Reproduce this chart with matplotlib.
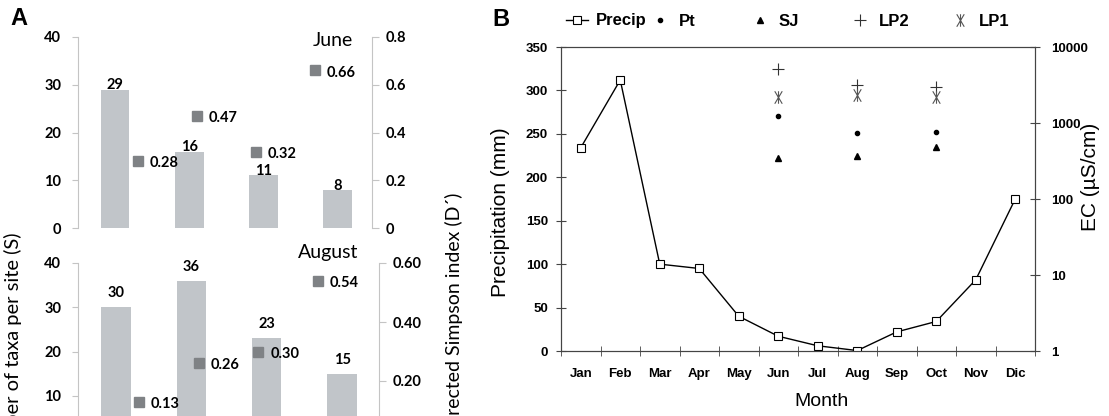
import matplotlib
matplotlib.use('Agg')
import matplotlib.pyplot as plt
from matplotlib.path import Path
import numpy as np

# Panel A: number of taxa (bars) and corrected Simpson index (squares) per site
site_pos = np.arange(4)
june_taxa = [29, 16, 11, 8]
june_simpson = [0.28, 0.47, 0.32, 0.66]
aug_taxa = [30, 36, 23, 15]
aug_simpson = [0.13, 0.26, 0.30, 0.54]

# Panel B: monthly precipitation and electrical conductivity per site
months = ['Jan', 'Feb', 'Mar', 'Apr', 'May', 'Jun', 'Jul', 'Aug', 'Sep', 'Oct', 'Nov', 'Dic']
precip = [234, 312, 100, 95, 40, 17, 6, 0.5, 22, 34, 82, 175]
ec_months = ['Jun', 'Aug', 'Oct']
ec_pt = [1230, 740, 760]
ec_sj = [347, 370, 480]
ec_lp2 = [5130, 3160, 2960]
ec_lp1 = [2190, 2330, 2190]

W, H = 1109, 416
BAR_C = '#c1c5c9'
SQ_C = '#7f8285'
SPINE_A = '#c4c4c4'
FONT_A = 'Lato'
FONT_B = 'Liberation Sans'

# X with a vertical bar, like the LP1 symbol
asterisk = Path([(0, -1), (0, 1), (-0.6, -1), (0.6, 1), (-0.6, 1), (0.6, -1)],
                [Path.MOVETO, Path.LINETO] * 3)

fig = plt.figure(figsize=(W / 100, H / 100), dpi=100)


def px_rect(left, right, top, bottom):
    return [left / W, 1 - bottom / H, (right - left) / W, (bottom - top) / H]


def simpson_panel(rect, taxa, simpson, bar_xlim, sq_xlim, r_ticks, r_labels,
                  title, title_xy, bar_pad):
    ax = fig.add_axes(rect)
    bars = ax.bar(site_pos, taxa, width=0.39, color=BAR_C, zorder=2)
    ax.bar_label(bars, padding=bar_pad, fontsize=10.5, fontweight='bold',
                 family=FONT_A)
    ax.set_xlim(*bar_xlim)
    ax.set_ylim(0, 40)
    ax.set_yticks([0, 10, 20, 30, 40])
    for s in ['top', 'right', 'bottom']:
        ax.spines[s].set_visible(False)
    ax.spines['left'].set_color(SPINE_A)
    ax.tick_params(axis='y', length=4, color=SPINE_A, pad=8)
    ax.tick_params(axis='x', bottom=False, labelbottom=False)
    for t in ax.get_yticklabels():
        t.set_fontweight('bold')
        t.set_fontsize(10.5)
        t.set_family(FONT_A)

    ar = fig.add_axes(rect)
    ar.patch.set_visible(False)
    ar.plot(site_pos, simpson, 's', color=SQ_C, ms=7.5, ls='none')
    for x, v in zip(site_pos, simpson):
        ar.annotate('%.2f' % v, (x, v), xytext=(8.5, -1.5),
                    textcoords='offset points', ha='left', va='center',
                    fontsize=10.5, fontweight='bold', family=FONT_A)
    ar.set_xlim(*sq_xlim)
    ar.set_ylim(r_ticks[0], r_ticks[-1])
    for s in ['top', 'left', 'bottom']:
        ar.spines[s].set_visible(False)
    ar.spines['right'].set_color(SPINE_A)
    ar.yaxis.tick_right()
    ar.set_yticks(r_ticks, r_labels)
    ar.tick_params(axis='y', length=5, color=SPINE_A, pad=5)
    ar.tick_params(axis='x', bottom=False, labelbottom=False)
    for t in ar.get_yticklabels():
        t.set_fontweight('bold')
        t.set_fontsize(10.5)
        t.set_family(FONT_A)
    ax.text(title_xy[0], title_xy[1], title, transform=ax.transAxes,
            ha='right', va='center', fontsize=14, family=FONT_A,
            clip_on=False)
    return ax, ar


simpson_panel(px_rect(78, 372, 37, 228), june_taxa, june_simpson,
              (-0.499, 3.463), (-1.017, 3.966),
              [0, 0.2, 0.4, 0.6, 0.8], ['0', '0.2', '0.4', '0.6', '0.8'],
              'June', (0.935, 0.984), -2)
simpson_panel(px_rect(78, 379, 263, 440), aug_taxa, aug_simpson,
              (-0.505, 3.49), (-1.02, 4.02),
              [0, 0.2, 0.4, 0.6], ['0.00', '0.20', '0.40', '0.60'],
              'August', (0.93, 1.062), 5)

fig.text(13 / W, 1 - 233 / H, 'Number of taxa per site (S)', rotation=90,
         ha='center', va='top', fontsize=14.5, family=FONT_A)
fig.text(454 / W, 1 - 193 / H, 'Corrected Simpson index (D\u00b4)', rotation=90,
         ha='center', va='top', fontsize=14, family=FONT_A)

# Panel B
SPINE_B = '#444444'
axb = fig.add_axes(px_rect(561, 1035, 47, 351))
mx = np.arange(1, 13)
h_precip, = axb.plot(mx, precip, '-s', color='black', lw=1, ms=5.5,
                     mfc='white', mec='black', mew=0.8, zorder=3,
                     label='Precip')
axb.set_xlim(0.5, 12.5)
axb.set_ylim(0, 350)
axb.set_yticks(np.arange(0, 351, 50))
axb.set_xticks(mx, months)
axb.set_xticks(np.arange(0.5, 12.6, 1), minor=True)
axb.tick_params(axis='x', which='major', length=0, pad=12)
axb.tick_params(axis='x', which='minor', length=7, direction='inout',
                color=SPINE_B)
axb.tick_params(axis='y', length=7, direction='inout', color=SPINE_B, pad=6)
for s in axb.spines.values():
    s.set_color(SPINE_B)
for t in axb.get_xticklabels() + axb.get_yticklabels():
    t.set_fontweight('bold')
    t.set_fontsize(9.5)
    t.set_family(FONT_B)

axe = axb.twinx()
ex = [months.index(m) + 1 for m in ec_months]
h_pt, = axe.plot(ex, ec_pt, 'o', color='black', ms=3, ls='none', label='Pt')
h_sj, = axe.plot(ex, ec_sj, '^', color='black', ms=4, ls='none', label='SJ')
h_lp2, = axe.plot(ex, ec_lp2, '+', color='#333333', ms=9, mew=0.8,
                  ls='none', label='LP2')
h_lp1, = axe.plot(ex, ec_lp1, marker=asterisk, color='#555555', ms=9,
                  mew=0.8, ls='none', label='LP1')
axe.set_yscale('log')
axe.set_ylim(1, 10000)
axe.set_yticks([1, 10, 100, 1000, 10000], ['1', '10', '100', '1000', '10000'])
axe.yaxis.set_minor_locator(matplotlib.ticker.NullLocator())
axe.tick_params(axis='y', length=7, direction='inout', color=SPINE_B, pad=8)
for s in axe.spines.values():
    s.set_color(SPINE_B)
for t in axe.get_yticklabels():
    t.set_fontweight('bold')
    t.set_fontsize(9.5)
    t.set_family(FONT_B)

fig.text(500 / W, 1 - 212 / H, 'Precipitation (mm)', rotation=90,
         ha='center', va='center', fontsize=15, family=FONT_B)
fig.text(1090 / W, 1 - 177 / H, 'EC (\u00b5S/cm)', rotation=90,
         ha='center', va='center', fontsize=15, family=FONT_B)
fig.text(821 / W, 1 - 401 / H, 'Month', ha='center', va='center',
         fontsize=14, family=FONT_B)

# legend entries, one small legend per entry (text starts at given px)
legend_text_x = [597, 680, 780, 880, 980]
for h, tx in zip([h_precip, h_pt, h_sj, h_lp2, h_lp1], legend_text_x):
    fig.legend(handles=[h], loc='center left',
               bbox_to_anchor=((tx - 31) / W, 1 - 21 / H),
               frameon=False, borderpad=0, borderaxespad=0,
               handlelength=1.3, handletextpad=0.5,
               prop={'family': FONT_B, 'weight': 'bold', 'size': 12})

fig.text(10 / W, 1 - 7 / H, 'A', ha='left', va='top', fontsize=17,
         fontweight='bold', family=FONT_B)
fig.text(492 / W, 1 - 8 / H, 'B', ha='left', va='top', fontsize=17,
         fontweight='bold', family=FONT_B)

fig.savefig('out.png', dpi=100)
